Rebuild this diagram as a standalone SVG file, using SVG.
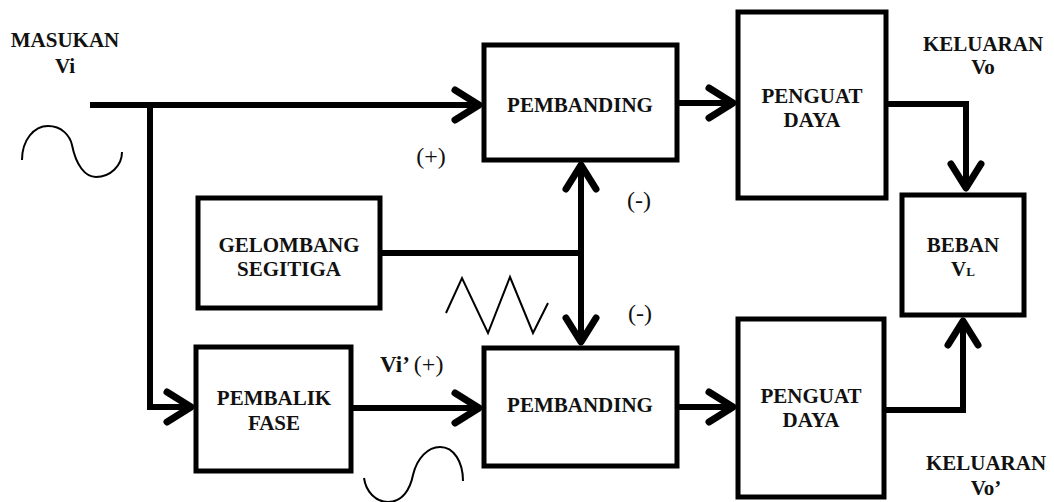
<svg xmlns="http://www.w3.org/2000/svg" width="1054" height="502" viewBox="0 0 1054 502">
<style>
.box{fill:#fff;stroke:#000;stroke-width:5}
.t{font-weight:bold;font-size:21px;fill:#111;text-anchor:middle}
.s{font-weight:normal;font-size:24px;fill:#111;text-anchor:middle}
.c{fill:none;stroke:#000;stroke-width:6}
.w{fill:none;stroke:#000;stroke-width:2}
</style>
<defs>
<marker id="ah" markerUnits="userSpaceOnUse" markerWidth="40" markerHeight="40" viewBox="-35 -20 40 40" refX="0" refY="0" orient="auto-start-reverse">
<path d="M-26,-15 L-2,0 L-26,15" fill="none" stroke="#000" stroke-width="7" stroke-linecap="round" stroke-linejoin="round"/>
</marker>
</defs>
<rect width="1054" height="502" fill="#fff"/>
<g id="connectors">
<path class="c" d="M90,105 H481" marker-end="url(#ah)"/>
<path class="c" d="M150,105 V407 H193" marker-end="url(#ah)"/>
<path class="c" d="M677,103 H735" marker-end="url(#ah)"/>
<path class="c" d="M886,104 H966 V190" marker-end="url(#ah)"/>
<path class="c" d="M380,253 H581"/>
<path class="c" d="M581,163 V344" marker-start="url(#ah)" marker-end="url(#ah)"/>
<path class="c" d="M352,408 H481" marker-end="url(#ah)"/>
<path class="c" d="M677,407 H735" marker-end="url(#ah)"/>
<path class="c" d="M884,410 H963 V319" marker-end="url(#ah)"/>
</g>
<g font-family="Liberation Serif, Times New Roman, serif">
<g id="labels">
<text class="t" x="65" y="47">MASUKAN</text>
<text class="t" x="65" y="73">Vi</text>
<text class="t" x="983" y="51">KELUARAN</text>
<text class="t" x="983" y="74">Vo</text>
<text class="t" x="986" y="470">KELUARAN</text>
<text class="t" x="986" y="495">Vo’</text>
<text class="s" x="431" y="164">(+)</text>
<text class="s" x="639" y="208">(-)</text>
<text class="s" x="640" y="321">(-)</text>
<text x="380" y="372" font-size="23" font-weight="bold" fill="#111">Vi’ <tspan font-weight="normal" font-size="24">(+)</tspan></text>
</g>
<g id="waves">
<path class="w" d="M22,160 C22,140 34,126 48,126 C62,126 70,136 72,145 C76,165 85,177 96,177 C110,177 122,166 122,152"/>
<path class="w" d="M446,313 L462,278 L488,333 L510,277 L533,333 L548,303"/>
<path class="w" d="M364,478 C366,492 376,502 388,502 C402,502 410,490 413,475 C417,458 428,447 440,447 C454,447 463,462 463,481"/>
</g>
<g id="pembanding1"><rect class="box" x="484" y="45" width="193" height="115"/><text class="t" x="580" y="112">PEMBANDING</text></g>
<g id="penguat1"><rect class="box" x="738" y="12" width="148" height="186"/><text class="t" x="812" y="103">PENGUAT</text><text class="t" x="812" y="127">DAYA</text></g>
<g id="gelombang"><rect class="box" x="198" y="198" width="182" height="110"/><text class="t" x="289" y="252">GELOMBANG</text><text class="t" x="289" y="276">SEGITIGA</text></g>
<g id="beban"><rect class="box" x="902" y="195" width="122" height="120"/><text class="t" x="963" y="252">BEBAN</text><text class="t" x="963" y="276">V<tspan font-size="13">L</tspan></text></g>
<g id="pembalik"><rect class="box" x="196" y="347" width="155" height="124"/><text class="t" x="274" y="405">PEMBALIK</text><text class="t" x="274" y="430">FASE</text></g>
<g id="pembanding2"><rect class="box" x="484" y="348" width="193" height="118"/><text class="t" x="580" y="412">PEMBANDING</text></g>
<g id="penguat2"><rect class="box" x="738" y="319" width="146" height="178"/><text class="t" x="811" y="403">PENGUAT</text><text class="t" x="811" y="427">DAYA</text></g>
</g>
</svg>
